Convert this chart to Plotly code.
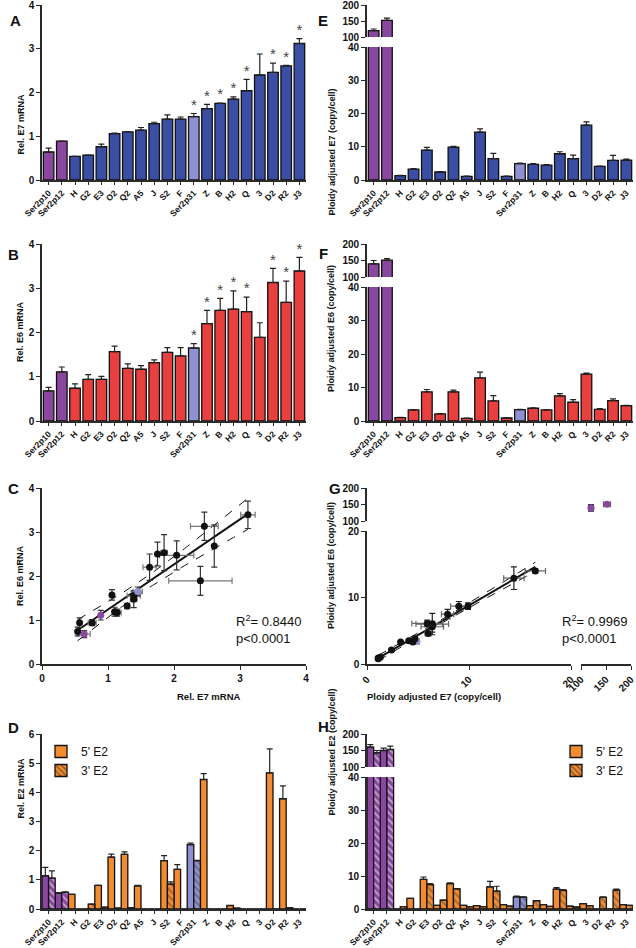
import numpy as np
import plotly.graph_objects as go

categories = ['Ser2p10', 'Ser2p12', 'H', 'G2', 'E3', 'O2', 'Q2', 'A5', 'J', 'S2', 'F',
              'Ser2p31', 'Z', 'B', 'H2', 'Q', '3', 'D2', 'R2', 'J3']

# A: relative E7 mRNA (mean, upper error)
e7_rel = [0.64, 0.89, 0.54, 0.57, 0.76, 1.06, 1.10, 1.14, 1.29, 1.39, 1.39, 1.45, 1.63, 1.75, 1.85, 2.04, 2.40, 2.46, 2.61, 3.12]
e7_rel_err = [0.09, 0.0, 0.0, 0.0, 0.06, 0.01, 0.0, 0.06, 0.03, 0.10, 0.05, 0.07, 0.10, 0.01, 0.05, 0.26, 0.48, 0.21, 0.01, 0.11]
# B: relative E6 mRNA
e6_rel = [0.68, 1.11, 0.74, 0.94, 0.94, 1.57, 1.19, 1.17, 1.32, 1.55, 1.47, 1.65, 2.20, 2.50, 2.53, 2.47, 1.89, 3.13, 2.68, 3.39]
e6_rel_err = [0.08, 0.11, 0.10, 0.11, 0.07, 0.12, 0.10, 0.08, 0.06, 0.11, 0.19, 0.10, 0.30, 0.27, 0.41, 0.33, 0.33, 0.32, 0.48, 0.31]
significant = [False] * 11 + [True, True, True, True, True, False, True, True, True]

# D: relative E2 mRNA, 5' and 3' amplicons
e2_5_rel = [1.14, 0.54, 0.50, 0.0, 0.81, 1.78, 1.87, 0.79, 0.0, 1.66, 1.36, 2.21, 4.44, 0.0, 0.12, 0.0, 0.0, 4.67, 3.78, 0.0]
e2_5_rel_err = [0.29, 0.02, 0.0, 0.0, 0.0, 0.10, 0.09, 0.02, 0.0, 0.17, 0.16, 0.05, 0.20, 0.0, 0.0, 0.0, 0.0, 0.82, 0.44, 0.0]
e2_3_rel = [1.06, 0.57, 0.0, 0.17, 0.06, 0.03, 0.04, 0.0, 0.0, 0.85, 0.0, 1.66, 0.0, 0.0, 0.03, 0.0, 0.0, 0.0, 0.04, 0.0]
e2_3_rel_err = [0.25, 0.02, 0.0, 0.0, 0.0, 0.0, 0.0, 0.0, 0.0, 0.08, 0.0, 0.01, 0.0, 0.0, 0.0, 0.0, 0.0, 0.0, 0.0, 0.0]

# E: ploidy adjusted E7 (copy/cell)
e7_ploidy = [120, 152, 1.3, 3.3, 9.0, 2.4, 9.9, 1.1, 14.4, 6.4, 1.1, 4.9, 4.7, 4.5, 7.9, 6.4, 16.5, 4.1, 5.9, 6.0]
e7_ploidy_err = [5, 7, 0.1, 0.1, 0.8, 0.1, 0.2, 0.1, 1.0, 1.6, 0.1, 0.2, 0.2, 0.1, 0.6, 1.1, 1.0, 0.1, 1.5, 0.3]
# F: ploidy adjusted E6 (copy/cell)
e6_ploidy = [140, 151, 1.0, 3.3, 8.7, 2.1, 8.7, 0.8, 12.9, 6.0, 0.9, 3.4, 3.8, 3.3, 7.5, 5.6, 14.0, 3.5, 6.1, 4.6]
e6_ploidy_err = [10, 5, 0.1, 0.1, 0.7, 0.1, 0.5, 0.1, 1.7, 1.6, 0.1, 0.1, 0.1, 0.1, 0.7, 0.8, 0.3, 0.2, 0.5, 0.1]
# H: ploidy adjusted E2 (copy/cell)
e2_5_ploidy = [160, 150, 0.0, 3.2, 9.0, 1.1, 7.7, 1.1, 1.0, 6.7, 1.3, 3.7, 1.0, 1.3, 6.0, 0.9, 1.6, 0.0, 0.0, 1.3]
e2_5_ploidy_err = [8, 7, 0.0, 0.0, 0.7, 0.0, 0.2, 0.0, 0.0, 1.7, 0.0, 0.2, 0.0, 0.0, 0.5, 0.0, 0.0, 0.0, 0.0, 0.0]
e2_3_ploidy = [143, 153, 0.7, 0.0, 7.4, 2.7, 6.1, 0.7, 0.7, 5.4, 0.9, 3.6, 2.5, 0.8, 5.6, 0.6, 1.0, 3.5, 5.7, 1.1]
e2_3_ploidy_err = [7, 10, 0.0, 0.0, 0.3, 0.0, 0.1, 0.0, 0.0, 1.5, 0.0, 0.1, 0.0, 0.0, 0.3, 0.0, 0.0, 0.2, 0.3, 0.0]

W, H = 636, 948
FONT = 'Arial, Liberation Sans, sans-serif'
AX = '#2a2a2a'
PURPLE = '#8a479f'
LAVENDER = '#8e90d0'
BLUE = '#3a4fa3'
RED = '#e8403e'
ORANGE = '#f38b2f'


def xd(a, b):
    return [a / W, b / W]


def yd(top, bottom):
    return [1 - bottom / H, 1 - top / H]


def colors_for(base):
    out = []
    for c in categories:
        if c in ('Ser2p10', 'Ser2p12'):
            out.append(PURPLE)
        elif c == 'Ser2p31':
            out.append(LAVENDER)
        else:
            out.append(base)
    return out


def hatch_fg(base_cols):
    return ['#efe6f4' if c == PURPLE else ('#2b3580' if c == LAVENDER else '#1a1a1a') for c in base_cols]


def bars(y, err, colors, xa, ya, width=0.8, offset=None, hatch=False):
    marker = dict(color=colors, line=dict(color='#111', width=1.3))
    if hatch:
        marker['pattern'] = dict(shape='\\', fgcolor=hatch_fg(colors), size=5,
                                 solidity=0.35, fillmode='overlay')
    return go.Bar(x=categories, y=y, width=width, offset=offset, marker=marker,
                  error_y=dict(type='data', symmetric=False, array=err,
                               arrayminus=[0] * len(err), color='#222',
                               thickness=1.2, width=3),
                  xaxis=xa, yaxis=ya, showlegend=False, hoverinfo='skip')


def stars(y, err, xa, ya):
    xs = [c for c, s in zip(categories, significant) if s]
    ys = [v + e for v, e, s in zip(y, err, significant) if s]
    return go.Scatter(x=xs, y=ys, mode='text', text=['*'] * len(xs),
                      textposition='top center', cliponaxis=False,
                      textfont=dict(family=FONT, size=15, color='#444'),
                      xaxis=xa, yaxis=ya, showlegend=False, hoverinfo='skip')


def fit_band(x, y):
    x = np.asarray(x, float)
    y = np.asarray(y, float)
    b, a = np.polyfit(x, y, 1)
    n = len(x)
    xs = np.linspace(x.min(), x.max(), 60)
    s = np.sqrt(((y - (a + b * x)) ** 2).sum() / (n - 2))
    sxx = ((x - x.mean()) ** 2).sum()
    half = 2.1 * s * np.sqrt(1 / n + (xs - x.mean()) ** 2 / sxx)
    return xs, a + b * xs, half


def reg_traces(x, y, xa, ya):
    xs, ys, half = fit_band(x, y)
    out = [go.Scatter(x=xs, y=ys, mode='lines', line=dict(color='#111', width=2),
                      xaxis=xa, yaxis=ya, showlegend=False, hoverinfo='skip')]
    for sgn in (1, -1):
        out.append(go.Scatter(x=xs, y=ys + sgn * half, mode='lines',
                              line=dict(color='#111', width=1, dash='dash'),
                              xaxis=xa, yaxis=ya, showlegend=False, hoverinfo='skip'))
    return out


fig = go.Figure()

# A, B
fig.add_trace(bars(e7_rel, e7_rel_err, colors_for(BLUE), 'x', 'y'))
fig.add_trace(stars(e7_rel, e7_rel_err, 'x', 'y'))
fig.add_trace(bars(e6_rel, e6_rel_err, colors_for(RED), 'x2', 'y2'))
fig.add_trace(stars(e6_rel, e6_rel_err, 'x2', 'y2'))

# C
for t in reg_traces(e7_rel, e6_rel, 'x3', 'y3'):
    fig.add_trace(t)
fig.add_trace(go.Scatter(x=e7_rel, y=e6_rel, mode='markers',
                         marker=dict(color=colors_for('#111'), size=7),
                         error_x=dict(type='data', array=e7_rel_err, color='#777', thickness=1.2, width=3),
                         error_y=dict(type='data', array=e6_rel_err, color='#333', thickness=1.2, width=3),
                         xaxis='x3', yaxis='y3', showlegend=False, hoverinfo='skip'))

# D
fig.add_trace(bars(e2_5_rel, e2_5_rel_err, colors_for(ORANGE), 'x4', 'y4', width=0.5, offset=-0.5))
fig.add_trace(bars(e2_3_rel, e2_3_rel_err, colors_for(ORANGE), 'x4', 'y4', width=0.5, offset=0.0, hatch=True))

# E, F (broken axes: bottom and top part)
for ya in ('y5', 'y6'):
    fig.add_trace(bars(e7_ploidy, e7_ploidy_err, colors_for(BLUE), 'x5', ya))
for ya in ('y7', 'y8'):
    fig.add_trace(bars(e6_ploidy, e6_ploidy_err, colors_for(RED), 'x6', ya))

# G
low = [i for i, c in enumerate(categories) if c not in ('Ser2p10', 'Ser2p12')]
high = [i for i, c in enumerate(categories) if c in ('Ser2p10', 'Ser2p12')]
gx = [e7_ploidy[i] for i in low]
gy = [e6_ploidy[i] for i in low]
for t in reg_traces(gx, gy, 'x7', 'y9'):
    fig.add_trace(t)
gcols = colors_for('#111')
for idx, xa, ya in ((low, 'x7', 'y9'), (high, 'x8', 'y10')):
    fig.add_trace(go.Scatter(x=[e7_ploidy[i] for i in idx], y=[e6_ploidy[i] for i in idx],
                             mode='markers', marker=dict(color=[gcols[i] for i in idx], size=7),
                             error_x=dict(type='data', array=[e7_ploidy_err[i] for i in idx],
                                          color='#666', thickness=1.2, width=3),
                             error_y=dict(type='data', array=[e6_ploidy_err[i] for i in idx],
                                          color='#222', thickness=1.2, width=3),
                             xaxis=xa, yaxis=ya, showlegend=False, hoverinfo='skip'))

# H
for ya in ('y11', 'y12'):
    fig.add_trace(bars(e2_5_ploidy, e2_5_ploidy_err, colors_for(ORANGE), 'x9', ya, width=0.5, offset=-0.5))
    fig.add_trace(bars(e2_3_ploidy, e2_3_ploidy_err, colors_for(ORANGE), 'x9', ya, width=0.5, offset=0.0, hatch=True))

# legend entries for D and H
for lg, xa, ya in (('legend', 'x4', 'y4'), ('legend2', 'x9', 'y11')):
    fig.add_trace(go.Bar(x=[None], y=[None], name="5' E2", legend=lg, xaxis=xa, yaxis=ya,
                         marker=dict(color=ORANGE, line=dict(color='#111', width=1.3))))
    fig.add_trace(go.Bar(x=[None], y=[None], name="3' E2", legend=lg, xaxis=xa, yaxis=ya,
                         marker=dict(color=ORANGE, line=dict(color='#111', width=1.3),
                                     pattern=dict(shape='\\', fgcolor='#1a1a1a', size=5,
                                                  solidity=0.35, fillmode='overlay'))))

tickfont = dict(family=FONT, size=10, color='#111', weight='bold')
line_style = dict(showline=True, linecolor=AX, linewidth=1.6, ticks='outside', ticklen=4,
                  tickwidth=1.3, tickcolor=AX, showgrid=False, zeroline=False,
                  automargin=False, ticklabeloverflow='allow')


def yax(top, bottom, rng, tickvals, anchor):
    return dict(domain=yd(top, bottom), range=rng, tickvals=tickvals, anchor=anchor,
                tickfont=tickfont, **line_style)


def xcat(anchor, left=42, right=306):
    ax = dict(domain=xd(left, right), anchor=anchor, type='category',
              categoryorder='array', categoryarray=categories, range=[-0.5, 19.5],
              tickangle=-45, tickfont=dict(family=FONT, size=8.5, color='#111', weight='bold'),
              **line_style)
    ax['ticklen'] = 3
    return ax


def xnum(left, right, rng, tickvals, anchor, angle=0):
    return dict(domain=xd(left, right), range=rng, tickvals=tickvals, anchor=anchor,
                tickangle=angle, tickfont=tickfont, **line_style)


layout = dict(
    width=W, height=H, autosize=False,
    margin=dict(l=0, r=0, t=0, b=0, autoexpand=False),
    paper_bgcolor='white', plot_bgcolor='white',
    barmode='overlay',
    font=dict(family=FONT, color='#111'),
    xaxis=xcat('y'), yaxis=yax(5, 180, [0, 4], [0, 1, 2, 3, 4], 'x'),
    xaxis2=xcat('y2'), yaxis2=yax(244, 421, [0, 4], [0, 1, 2, 3, 4], 'x2'),
    xaxis3=xnum(42, 306, [0, 4], [0, 1, 2, 3, 4], 'y3'),
    yaxis3=yax(488, 664, [0, 4], [0, 1, 2, 3, 4], 'x3'),
    xaxis4=xcat('y4'), yaxis4=yax(734, 909, [0, 6], [0, 1, 2, 3, 4, 5, 6], 'x4'),
    xaxis5=xcat('y5', 367, 633),
    yaxis5=yax(47, 180, [0, 40], [0, 10, 20, 30, 40], 'x5'),
    yaxis6=yax(5, 37, [100, 200], [100, 150, 200], 'x5'),
    xaxis6=xcat('y7', 367, 633),
    yaxis7=yax(287, 421, [0, 40], [0, 10, 20, 30, 40], 'x6'),
    yaxis8=yax(244, 277, [100, 200], [100, 150, 200], 'x6'),
    xaxis7=xnum(367, 571, [0, 20], [0, 10, 20], 'y9', -45),
    xaxis8=xnum(581, 631, [100, 200], [100, 150, 200], 'y9', -45),
    yaxis9=yax(531, 664, [0, 20], [0, 10, 20], 'x7'),
    yaxis10=yax(488, 521, [100, 200], [100, 150, 200], 'x7'),
    xaxis9=xcat('y11', 367, 633),
    yaxis11=yax(777, 909, [0, 40], [0, 10, 20, 30, 40], 'x9'),
    yaxis12=yax(734, 767, [100, 200], [100, 150, 200], 'x9'),
    legend=dict(x=41 / W, y=1 - 737 / H, xanchor='left', yanchor='top',
                bgcolor='rgba(0,0,0,0)', font=dict(family=FONT, size=12), tracegroupgap=0),
    legend2=dict(x=556 / W, y=1 - 737 / H, xanchor='left', yanchor='top',
                 bgcolor='rgba(0,0,0,0)', font=dict(family=FONT, size=12), tracegroupgap=0),
)
fig.update_layout(**layout)

ann = []
letters = [('A', 8, 10), ('B', 6, 244), ('C', 6, 488), ('D', 6, 738),
           ('E', 323, 10), ('F', 323, 243), ('G', 335, 488), ('H', 323, 737)]
for txt, x, y in letters:
    ann.append(dict(text='<b>%s</b>' % txt, x=x / W, y=1 - y / H, xref='paper', yref='paper',
                    showarrow=False, font=dict(family=FONT, size=15, color='#111')))

ytitles = [('Rel. E7 mRNA', 13, 92), ('Rel. E6 mRNA', 13, 332), ('Rel. E6 mRNA', 13, 576),
           ('Rel. E2 mRNA', 13, 821),
           ('Ploidy adjusted E7 (copy/cell)', 331, 87), ('Ploidy adjusted E6 (copy/cell)', 331, 329),
           ('Ploidy adjusted E6 (copy/cell)', 331, 566), ('Ploidy adjusted E2 (copy/cell)', 331, 818)]
for txt, x, y in ytitles:
    ann.append(dict(text='<b>%s</b>' % txt, x=x / W, y=1 - y / H, xref='paper', yref='paper',
                    textangle=-90, showarrow=False, font=dict(family=FONT, size=9, color='#111')))

for txt, x in (('Rel. E7 mRNA', 175), ('Ploidy adjusted E7 (copy/cell)', 503)):
    ann.append(dict(text='<b>%s</b>' % txt, x=x / W, y=1 - 704 / H, xref='paper', yref='paper',
                    showarrow=False, font=dict(family=FONT, size=9.5, color='#111')))

for txt, x in (('R<sup>2</sup>= 0.8440<br>p&lt;0.0001', 234), ('R<sup>2</sup>= 0.9969<br>p&lt;0.0001', 560)):
    ann.append(dict(text=txt, x=x / W, y=1 - 648 / H, xref='paper', yref='paper',
                    xanchor='left', align='left', showarrow=False,
                    font=dict(family=FONT, size=13, color='#111')))

fig.update_layout(annotations=ann)

# the page body has a default 8px margin; drop it so the figure fills the window exactly
fig.write_html("out.html", config={'displayModeBar': False},
               post_script="document.body.style.margin='0px';")
